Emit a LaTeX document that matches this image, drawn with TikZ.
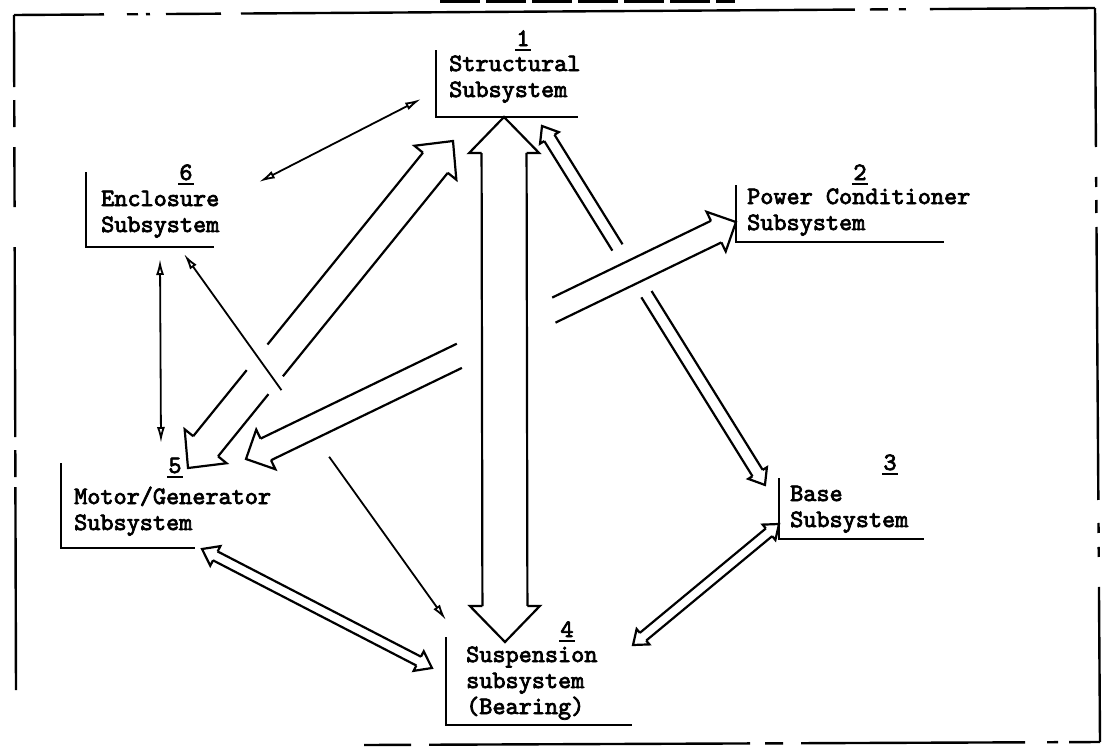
\documentclass[tikz,border=0pt]{standalone}
\usepackage{fontspec}
\newfontfamily\twfont{lmmono10-regular}[Extension=.otf,FakeBold=3]
\usetikzlibrary{arrows.meta,calc}
\makeatletter
\newcommand\arrframe[2]{%
  \pgfmathanglebetweenpoints{\pgfpointanchor{#1}{center}}{\pgfpointanchor{#2}{center}}%
  \xdef\arang{\pgfmathresult}%
  \pgfpointdiff{\pgfpointanchor{#1}{center}}{\pgfpointanchor{#2}{center}}%
  \pgfmathveclen{\pgf@x}{\pgf@y}%
  \xdef\arlen{\pgfmathresult}}
\makeatother
% head at start / end of a block arrow: #1 body half width, #2 head half width, #3 head length
\newcommand\hS[3]{\draw[arrl] ({#3},{#1}) -- ({#3},{#2}) -- (0,0) -- ({#3},{-#2}) -- ({#3},{-#1});}
\newcommand\hE[3]{\draw[arrl] ({\arlen-#3},{#1}) -- ({\arlen-#3},{#2}) -- ({\arlen},0) -- ({\arlen-#3},{-#2}) -- ({\arlen-#3},{-#1});}
% body segment: #1 offset, #2 from, #3 to
\newcommand\sg[3]{\draw[arrl] ({#2},{#1}) -- ({#3},{#1});}
\newcommand\inframe[3]{\arrframe{#1}{#2}\begin{scope}[shift={(#1)},rotate=\arang]#3\end{scope}}

\begin{document}
\begin{tikzpicture}[x=1pt,y=-1pt,
  tw/.style={font=\twfont\fontsize{25}{26}\selectfont},
  lbl/.style={tw, align=left, inner sep=0pt, anchor=base west},
  num/.style={tw, inner sep=0pt, anchor=base},
  bkt/.style={line width=2.6pt},
  ul/.style={line width=2pt},
  arrl/.style={line width=2.2pt, line join=miter},
  tarr/.style={line width=1.8pt},
  frm/.style={line width=2.4pt}]
\useasboundingbox (0,0) rectangle (1108,750);
\fill[white] (0,0) rectangle (1108,750);

% ---------- outer dashed frame ----------
\draw[frm, dash pattern=on 90pt off 23pt on 11pt off 8pt on 4pt off 16pt on 55pt off 20pt on 614pt off 15pt on 18pt off 11pt on 7pt off 24pt on 165pt]
  (14,15) coordinate (fa) -- (1095,8) coordinate (fb);
\draw[frm, dash pattern=on 139pt off 30pt on 10pt off 13pt on 13pt off 14pt on 273pt off 23pt on 10pt off 14pt on 10pt off 30pt on 155pt]
  (fb) -- (1100,742) coordinate (fc);
\draw[frm, dash pattern=on 31pt off 11pt on 11pt off 22pt on 224pt off 18pt on 18pt off 15pt on 321pt off 18pt on 47pt]
  (fc) -- (364,745) coordinate (fd);
\draw[frm, dash pattern=on 72pt off 13pt on 27pt off 20pt on 60pt off 40pt on 190pt off 13pt on 27pt off 10pt on 203pt]
  (fa) -- (16,690) coordinate (fe);
\draw[frm, dash pattern=on 40pt off 6pt] (440,1.5) coordinate (fg) -- (735,1.5) coordinate (fh);

% ---------- subsystem blocks (anchor = baseline of last line) ----------
\node[num] (k1) at (523,46) {1};
\node[lbl] (s1) at (449,97) {Structural\\Subsystem};
\draw[bkt] (436,50) |- (578,117);

\node[num] (k2) at (860,180) {2};
\node[lbl] (s2) at (747,230) {Power Conditioner\\Subsystem};
\draw[bkt] (736,185) |- (944,242);

\node[num] (k3) at (890,470) {3};
\node[lbl] (s3) at (790,527) {Base\\Subsystem};
\draw[bkt] (779,478) |- (924,539);

\node[num] (k4) at (567,637) {4};
\node[lbl] (s4) at (466,714) {Suspension\\subsystem\\(Bearing)};
\draw[bkt] (446,637) |- (632,725);

\node[num] (k5) at (175,473) {5};
\node[lbl] (s5) at (74,530) {Motor/Generator\\Subsystem};
\draw[bkt] (61,463) |- (195,548);

\node[num] (k6) at (186,180) {6};
\node[lbl] (s6) at (101,232) {Enclosure\\Subsystem};
\draw[bkt] (86,172) |- (214,247);

\foreach \k in {k1,k2,k3,k4,k5,k6}
  \draw[ul] ([xshift=-1pt,yshift=-4pt]\k.base west) -- ([xshift=1pt,yshift=-4pt]\k.base east);

% ---------- connector end points ----------
\coordinate (a14s) at (504,117); \coordinate (a14e) at (505,642);
\coordinate (a51s) at (188,468); \coordinate (a51e) at (453,141);
\coordinate (a52s) at (246,459); \coordinate (a52e) at (736,222);
\coordinate (a13s) at (542,126); \coordinate (a13e) at (765,485);
\coordinate (a34s) at (779,524); \coordinate (a34e) at (633,645);
\coordinate (a54s) at (202,549); \coordinate (a54e) at (432,668);
\coordinate (t16s) at (421,99);  \coordinate (t16e) at (259,182);
\coordinate (t65s) at (160,259); \coordinate (t65e) at (161,443);
\coordinate (t64s) at (184,254); \coordinate (t64e) at (446,620);

% ---------- block arrows ----------
% 1 <-> 4
\inframe{a14s}{a14e}{\hS{22.5}{35}{36}\hE{22.5}{35}{36}\sg{22.5}{36}{\arlen-36}\sg{-22.5}{36}{\arlen-36}}
% 5 <-> 1
\inframe{a51s}{a51e}{\hS{16}{27}{28}\hE{16}{27}{28}\sg{16}{28}{108}\sg{16}{131}{\arlen-28}\sg{-16}{28}{113}\sg{-16}{146}{\arlen-28}}
% 5 <-> 2
\inframe{a52s}{a52e}{\hS{12}{22}{22}\hE{12}{22}{22}\sg{12}{22}{234}\sg{12}{338}{\arlen-22}\sg{-12}{22}{240}\sg{-12}{346}{\arlen-22}}
% 1 <-> 3
\inframe{a13s}{a13e}{\hS{6}{11}{14}\hE{6}{11}{14}\sg{6}{14}{143}\sg{6}{198}{\arlen-14}\sg{-6}{14}{143}\sg{-6}{198}{\arlen-14}}
% 3 <-> 4
\inframe{a34s}{a34e}{\hS{5}{10}{13}\hE{5}{10}{13}\sg{5}{13}{\arlen-13}\sg{-5}{13}{\arlen-13}}
% 5 <-> 4
\inframe{a54s}{a54e}{\hS{5}{11}{15}\hE{5}{11}{15}\sg{5}{15}{\arlen-15}\sg{-5}{15}{\arlen-15}}

% ---------- thin arrows ----------
\draw[tarr, {Latex[open,length=16pt,width=8pt]}-{Latex[open,length=16pt,width=8pt]}] (t16s) -- (t16e);
\draw[tarr, {Latex[open,length=16pt,width=8pt]}-{Latex[open,length=16pt,width=8pt]}] (t65s) -- (t65e);
\draw[tarr, {Latex[open,length=16pt,width=8pt]}-] (t64s) -- ($(t64s)!0.372!(t64e)$);
\draw[tarr, -{Latex[open,length=16pt,width=8pt]}] ($(t64s)!0.554!(t64e)$) -- (t64e);
\end{tikzpicture}
\end{document}
